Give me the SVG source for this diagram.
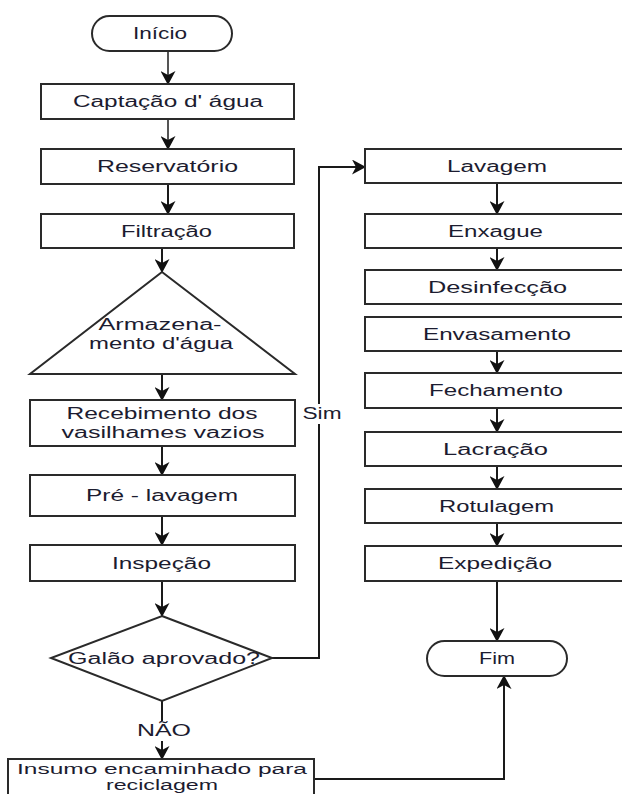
<svg xmlns="http://www.w3.org/2000/svg" width="622" height="794" viewBox="0 0 622 794">
<style>
.n{fill:#fff;stroke:#2a2a2a;stroke-width:2}
.t{font-family:"Liberation Sans",Arial,sans-serif;font-size:16px;fill:#1c1c30;text-anchor:middle}
.s{font-size:14px}
.c{fill:none;stroke:#1a1a1a;stroke-width:2}
.g{stroke:#555}
.lb{fill:#fff}
</style>
<defs>
<marker id="ah" markerWidth="14" markerHeight="15" refX="13" refY="7.5" orient="auto" markerUnits="userSpaceOnUse">
<path d="M0,0 L14,7.5 L0,15 L4,7.5 z" fill="#111"/>
</marker>
</defs>
<rect width="622" height="794" fill="#fff"/>
<g id="connectors">
<path class="c g" d="M168,51 V84" marker-end="url(#ah)"/>
<path class="c g" d="M168,119 V149" marker-end="url(#ah)"/>
<path class="c" d="M168,184 V214" marker-end="url(#ah)"/>
<path class="c" d="M162,248 V272" marker-end="url(#ah)"/>
<path class="c" d="M162,374 V400" marker-end="url(#ah)"/>
<path class="c" d="M162,446 V475" marker-end="url(#ah)"/>
<path class="c" d="M162,516 V545" marker-end="url(#ah)"/>
<path class="c" d="M162,581 V616" marker-end="url(#ah)"/>
<path class="c" d="M162,701 V759" marker-end="url(#ah)"/>
<path class="c" d="M272,658 H319 V167 H365" marker-end="url(#ah)"/>
<path class="c" d="M497,183 V214" marker-end="url(#ah)"/>
<path class="c" d="M497,248 V270" marker-end="url(#ah)"/>
<path class="c" d="M497,351 V373" marker-end="url(#ah)"/>
<path class="c" d="M497,408 V432" marker-end="url(#ah)"/>
<path class="c" d="M497,466 V489" marker-end="url(#ah)"/>
<path class="c" d="M497,523 V546" marker-end="url(#ah)"/>
<path class="c" d="M497,581 V641" marker-end="url(#ah)"/>
<path class="c" d="M314,779 H504 V676" marker-end="url(#ah)"/>
<rect class="lb" x="302" y="404" width="42" height="20"/>
<text class="t" x="322" y="419" textLength="39" lengthAdjust="spacingAndGlyphs">Sim</text>
<rect class="lb" x="136" y="721" width="56" height="20"/>
<text class="t" x="164" y="736" textLength="54" lengthAdjust="spacingAndGlyphs">NÃO</text>
</g>
<g id="inicio"><rect class="n" x="92" y="16" width="140" height="35" rx="17.5"/><text class="t" x="160" y="39" textLength="54" lengthAdjust="spacingAndGlyphs">Início</text></g>
<g id="captacao"><rect class="n" x="41" y="84" width="253" height="35"/><text class="t" x="168" y="107" textLength="190" lengthAdjust="spacingAndGlyphs">Captação d' água</text></g>
<g id="reservatorio"><rect class="n" x="41" y="149" width="253" height="35"/><text class="t" x="167.5" y="172" textLength="141" lengthAdjust="spacingAndGlyphs">Reservatório</text></g>
<g id="filtracao"><rect class="n" x="41" y="214" width="253" height="34"/><text class="t" x="166.5" y="236.5" textLength="91" lengthAdjust="spacingAndGlyphs">Filtração</text></g>
<g id="armazenamento"><path class="n" d="M162,272 L295,374 L30,374 Z"/><text class="t" x="160" y="330" textLength="123" lengthAdjust="spacingAndGlyphs">Armazena-</text><text class="t" x="161" y="348.5" textLength="144" lengthAdjust="spacingAndGlyphs">mento d'água</text></g>
<g id="recebimento"><rect class="n" x="30" y="400" width="265" height="46"/><text class="t" x="162" y="419" textLength="191" lengthAdjust="spacingAndGlyphs">Recebimento dos</text><text class="t" x="163" y="438" textLength="203" lengthAdjust="spacingAndGlyphs">vasilhames vazios</text></g>
<g id="prelavagem"><rect class="n" x="30" y="475" width="265" height="41"/><text class="t" x="162" y="501" textLength="152" lengthAdjust="spacingAndGlyphs">Pré - lavagem</text></g>
<g id="inspecao"><rect class="n" x="30" y="545" width="265" height="36"/><text class="t" x="161.5" y="568.5" textLength="99" lengthAdjust="spacingAndGlyphs">Inspeção</text></g>
<g id="galao"><path class="n" d="M162,616 L272,658 L162,701 L51,658 Z"/><text class="t" x="164" y="663.5" textLength="192" lengthAdjust="spacingAndGlyphs">Galão aprovado?</text></g>
<g id="insumo"><rect class="n" x="8" y="759" width="306" height="60"/><text class="t s" x="162" y="774" textLength="290" lengthAdjust="spacingAndGlyphs">Insumo encaminhado para</text><text class="t s" x="162" y="790" textLength="112" lengthAdjust="spacingAndGlyphs">reciclagem</text></g>
<g id="lavagem"><rect class="n" x="365" y="149" width="280" height="34"/><text class="t" x="497" y="171.5" textLength="100" lengthAdjust="spacingAndGlyphs">Lavagem</text></g>
<g id="enxague"><rect class="n" x="365" y="214" width="280" height="34"/><text class="t" x="495.5" y="236.5" textLength="95" lengthAdjust="spacingAndGlyphs">Enxague</text></g>
<g id="desinfeccao"><rect class="n" x="365" y="270" width="280" height="34"/><text class="t" x="497.5" y="292.5" textLength="139" lengthAdjust="spacingAndGlyphs">Desinfecção</text></g>
<g id="envasamento"><rect class="n" x="365" y="317" width="280" height="34"/><text class="t" x="497" y="339.5" textLength="148" lengthAdjust="spacingAndGlyphs">Envasamento</text></g>
<g id="fechamento"><rect class="n" x="365" y="373" width="280" height="35"/><text class="t" x="496" y="396" textLength="134" lengthAdjust="spacingAndGlyphs">Fechamento</text></g>
<g id="lacracao"><rect class="n" x="365" y="432" width="280" height="34"/><text class="t" x="495.5" y="454.5" textLength="105" lengthAdjust="spacingAndGlyphs">Lacração</text></g>
<g id="rotulagem"><rect class="n" x="365" y="489" width="280" height="34"/><text class="t" x="496.5" y="511.5" textLength="115" lengthAdjust="spacingAndGlyphs">Rotulagem</text></g>
<g id="expedicao"><rect class="n" x="365" y="546" width="280" height="35"/><text class="t" x="495" y="569" textLength="114" lengthAdjust="spacingAndGlyphs">Expedição</text></g>
<g id="fim"><rect class="n" x="427" y="641" width="140" height="35" rx="17.5"/><text class="t" x="497" y="664" textLength="36" lengthAdjust="spacingAndGlyphs">Fim</text></g>
</svg>
